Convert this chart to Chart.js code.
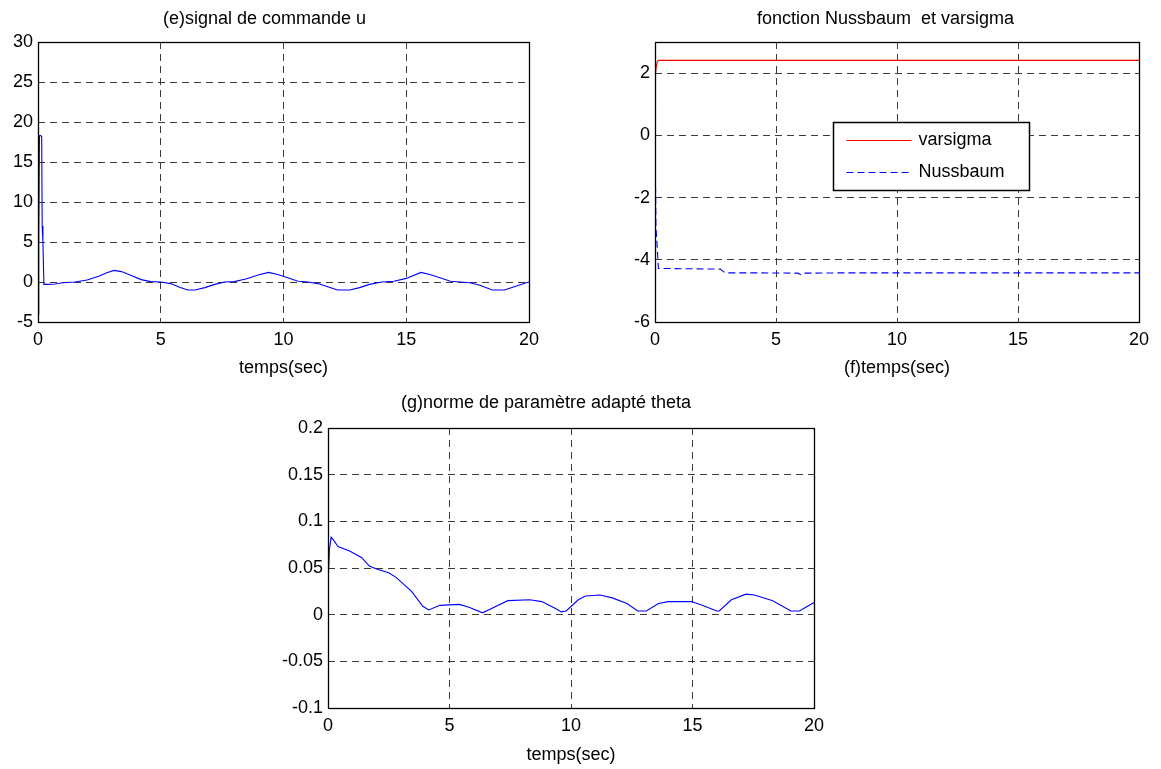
<!DOCTYPE html>
<html><head><meta charset="utf-8">
<script src="https://cdn.jsdelivr.net/npm/chart.js@4.4.1/dist/chart.umd.min.js"></script>
<style>
html,body{margin:0;padding:0;background:#fff;overflow:hidden;width:1161px;height:769px;position:relative;}
canvas{position:absolute;}
</style></head><body>
<canvas id="cU" width="567" height="385" style="left:0px;top:0px"></canvas>
<canvas id="cN" width="530" height="385" style="left:632px;top:0px"></canvas>
<canvas id="cT" width="586" height="382" style="left:278px;top:386px"></canvas>
<script>
// ---- data ----
const xTicks = [0, 5, 10, 15, 20];

const tU = [0, 0.03, 0.06, 0.1, 0.15, 0.17, 0.2, 0.24, 0.4, 0.7, 1.0, 1.5, 2.0, 2.5, 2.8, 3.1, 3.4, 3.8, 4.2, 4.6, 5.0, 5.4, 5.8, 6.1, 6.4, 6.8, 7.2, 7.6, 8.0, 8.5, 9.0, 9.4, 9.8, 10.2, 10.6, 11.0, 11.4, 11.8, 12.2, 12.7, 13.1, 13.5, 14.0, 14.5, 15.0, 15.6, 16.0, 16.4, 16.8, 17.2, 17.6, 18.0, 18.5, 19.0, 19.4, 19.8, 20];
const u  = [-4, 5, 18.3, 18.3, 18.2, 7, 5, -0.3, -0.3, -0.25, -0.1, 0, 0.25, 0.75, 1.15, 1.45, 1.3, 0.8, 0.3, 0.05, 0, -0.2, -0.7, -1.0, -1.0, -0.7, -0.3, 0, 0.05, 0.4, 0.9, 1.2, 0.9, 0.5, 0.1, 0, -0.2, -0.6, -1.0, -1.0, -0.7, -0.3, 0, 0.1, 0.45, 1.2, 0.9, 0.5, 0.1, 0, -0.1, -0.4, -1.0, -1.0, -0.6, -0.2, 0];
const yTicksU = [-5, 0, 5, 10, 15, 20, 25, 30];

const tV = [0, 0.01, 0.03, 0.06, 0.1, 0.15, 20];
const varsigma = [1.0, 1.6, 2.0, 2.25, 2.38, 2.41, 2.41];
const tN = [0, 0.02, 0.04, 0.07, 0.14, 0.5, 1.5, 2.7, 2.9, 4, 5.9, 6.05, 6.2, 8, 12, 16, 20];
const nussbaum = [0.5, -1.5, -3.0, -3.3, -4.28, -4.28, -4.29, -4.3, -4.42, -4.42, -4.43, -4.49, -4.43, -4.42, -4.42, -4.42, -4.42];
const yTicksN = [-6, -4, -2, 0, 2];

const tT = [0, 0.06, 0.13, 0.25, 0.41, 0.91, 1.39, 1.7, 2.0, 2.5, 2.8, 3.44, 3.9, 4.15, 4.6, 5.4, 5.8, 6.36, 6.75, 7.4, 8.3, 8.8, 9.4, 9.6, 9.8, 10.3, 10.6, 11.2, 11.7, 12.3, 12.75, 13.1, 13.6, 14.0, 14.95, 15.4, 16.0, 16.1, 16.6, 17.2, 17.55, 18.3, 19.05, 19.4, 20];
const theta = [0.03, 0.07, 0.083, 0.079, 0.073, 0.068, 0.061, 0.052, 0.049, 0.045, 0.040, 0.025, 0.009, 0.005, 0.010, 0.011, 0.008, 0.002, 0.007, 0.015, 0.016, 0.014, 0.006, 0.003, 0.004, 0.016, 0.020, 0.021, 0.018, 0.012, 0.004, 0.004, 0.012, 0.014, 0.014, 0.010, 0.004, 0.004, 0.016, 0.022, 0.021, 0.015, 0.004, 0.004, 0.013];
const yTicksT = [-0.1, -0.05, 0, 0.05, 0.1, 0.15, 0.2];
const yTickLabelsT = ['-0.1', '-0.05', '0', '0.05', '0.1', '0.15', '0.2'];

// ---- helpers ----
const FONT = "'Liberation Sans', Arial, Helvetica, sans-serif";
const pts = (xs, ys) => xs.map((x, i) => ({x, y: ys[i]}));

const framePlugin = {
  id: 'frame',
  afterDraw(chart) {
    const {ctx, chartArea: a} = chart;
    ctx.save();
    ctx.strokeStyle = '#000';
    ctx.lineWidth = 1.3;
    ctx.setLineDash([]);
    ctx.strokeRect(Math.round(a.left) + 0.5, Math.round(a.top) + 0.5, Math.round(a.right - a.left), Math.round(a.bottom - a.top));
    ctx.restore();
  }
};

function makeChart(id, cfg) {
  const opts = {
    responsive: false,
    animation: false,
    devicePixelRatio: 1,
    layout: {padding: {left: 0, right: cfg.padRight, top: 0, bottom: 0}},
    plugins: {
      legend: {display: false},
      tooltip: {enabled: false},
      title: {display: true, text: cfg.title, color: '#000', font: {size: 18, family: FONT, weight: 'normal'},
              padding: {top: cfg.titleTop, bottom: cfg.titleBottom}}
    },
    scales: {
      x: {
        type: 'linear', min: 0, max: 20,
        afterBuildTicks: s => { s.ticks = xTicks.map(v => ({value: v})); },
        afterFit: s => { s.height = cfg.xHeight; },
        ticks: {color: '#000', padding: 7, font: {size: 18, family: FONT}, maxRotation: 0, autoSkip: false},
        grid: {color: '#3a3a3a', lineWidth: 1, drawTicks: false},
        border: {display: false, dash: [7, 5]},
        title: {display: true, text: cfg.xTitle, color: '#000', font: {size: 18, family: FONT}, padding: {top: 0, bottom: cfg.xTitlePad}}
      },
      y: {
        type: 'linear', min: cfg.yMin, max: cfg.yMax,
        afterBuildTicks: s => { s.ticks = cfg.yTicks.map(v => ({value: v})); },
        afterFit: s => { s.width = cfg.yWidth; },
        ticks: {color: '#000', padding: 5, font: {size: 18, family: FONT}, autoSkip: false,
                callback: cfg.yLabel || (v => String(v))},
        grid: {color: '#3a3a3a', lineWidth: 1, drawTicks: false},
        border: {display: false, dash: [7, 5]}
      }
    }
  };
  return new Chart(document.getElementById(id), {
    type: 'line',
    data: {datasets: cfg.datasets},
    options: opts,
    plugins: [framePlugin].concat(cfg.plugins || [])
  });
}

// Chart e: signal de commande u
makeChart('cU', {
  title: '(e)signal de commande u', titleTop: 8, titleBottom: 12.4,
  padRight: 38, yWidth: 38, xHeight: 63, xTitlePad: 6.2,
  xTitle: 'temps(sec)', yMin: -5, yMax: 30, yTicks: yTicksU,
  datasets: [{label: 'u', data: pts(tU, u), borderColor: '#0000ff', borderWidth: 1.1, pointRadius: 0, tension: 0, fill: false}]
});

// Chart f: Nussbaum & varsigma with boxed legend
const boxLegend = {
  id: 'boxLegend',
  afterDraw(chart) {
    const {ctx, chartArea: a} = chart;
    const x0 = Math.round(a.left + 178) + 0.5, y0 = Math.round(a.top + 80) + 0.5, w = 196, h = 68;
    ctx.save();
    ctx.fillStyle = '#fff';
    ctx.fillRect(x0, y0, w, h);
    ctx.strokeStyle = '#000';
    ctx.lineWidth = 1.5;
    ctx.setLineDash([]);
    ctx.strokeRect(x0, y0, w, h);
    ctx.font = '18px ' + FONT;
    ctx.textBaseline = 'middle';
    ctx.fillStyle = '#000';
    chart.data.datasets.forEach((ds, i) => {
      const yy = Math.round(y0 + 17 + i * 32) + 0.5;
      ctx.strokeStyle = ds.borderColor;
      ctx.lineWidth = ds.borderWidth;
      ctx.setLineDash(ds.borderDash || []);
      ctx.beginPath();
      ctx.moveTo(x0 + 13, yy);
      ctx.lineTo(x0 + 78, yy);
      ctx.stroke();
      ctx.fillText(ds.label, x0 + 85, yy);
    });
    ctx.restore();
  }
};
makeChart('cN', {
  title: 'fonction Nussbaum  et varsigma', titleTop: 8, titleBottom: 12.4,
  padRight: 23, yWidth: 23, xHeight: 63, xTitlePad: 6.2,
  xTitle: '(f)temps(sec)', yMin: -6, yMax: 3, yTicks: yTicksN,
  datasets: [
    {label: 'varsigma', data: pts(tV, varsigma), borderColor: '#ff0000', borderWidth: 1.1, pointRadius: 0, tension: 0, fill: false},
    {label: 'Nussbaum', data: pts(tN, nussbaum), borderColor: '#0000ff', borderWidth: 1.1, borderDash: [7, 4], pointRadius: 0, tension: 0, fill: false}
  ],
  plugins: [boxLegend]
});

// Chart g: norme de parametre adapte theta
makeChart('cT', {
  title: '(g)norme de paramètre adapté theta', titleTop: 6, titleBottom: 14.4,
  padRight: 50, yWidth: 50, xHeight: 60, xTitlePad: 2.2,
  xTitle: 'temps(sec)', yMin: -0.1, yMax: 0.2, yTicks: yTicksT,
  yLabel: v => { const i = yTicksT.findIndex(t => Math.abs(t - v) < 1e-9); return i >= 0 ? yTickLabelsT[i] : ''; },
  datasets: [{label: 'theta', data: pts(tT, theta), borderColor: '#0000ff', borderWidth: 1.1, pointRadius: 0, tension: 0, fill: false}]
});
</script>
</body></html>
